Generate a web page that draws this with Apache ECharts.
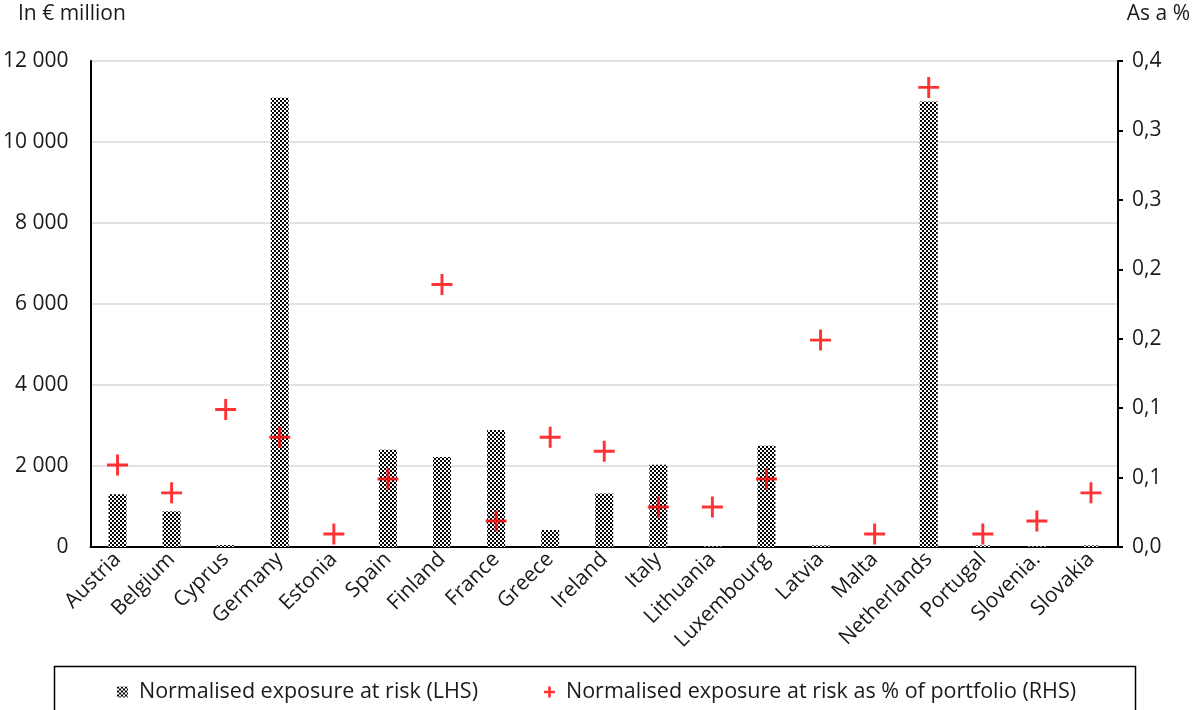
<!DOCTYPE html>
<html>
<head>
<meta charset="utf-8">
<script src="https://cdn.jsdelivr.net/npm/echarts@6/dist/echarts.min.js"></script>
<style>
html,body{margin:0;padding:0;background:#fff;}
#chart{width:1193px;height:710px;}
</style>
</head>
<body>
<div id="chart"></div>
<script>
const categories = ['Austria','Belgium','Cyprus','Germany','Estonia','Spain','Finland','France','Greece','Ireland','Italy','Lithuania','Luxembourg','Latvia','Malta','Netherlands','Portugal','Slovenia.','Slovakia'];
const exposureValues = [1300, 880, 50, 11090, 0, 2400, 2220, 2890, 420, 1320, 2030, 15, 2500, 40, 0, 11000, 40, 15, 40];
const exposurePctValues = [0.059, 0.039, 0.099, 0.079, 0.0094, 0.049, 0.189, 0.0187, 0.079, 0.069, 0.0288, 0.0288, 0.049, 0.149, 0.0094, 0.331, 0.0094, 0.0187, 0.039];
const rightTickLabels = ['0,0','0,1','0,1','0,2','0,2','0,3','0,3','0,4'];
const seriesNames = ['Normalised exposure at risk (LHS)', 'Normalised exposure at risk as % of portfolio (RHS)'];
const leftAxisTitle = 'In € million';
const rightAxisTitle = 'As a %';

// checker pattern
const pc = document.createElement('canvas');
pc.width = 4; pc.height = 4;
const pctx = pc.getContext('2d');
pctx.fillStyle = '#ffffff'; pctx.fillRect(0,0,4,4);
pctx.fillStyle = '#000000';
pctx.fillRect(0,0,2,2); pctx.fillRect(2,2,2,2);
const checker = { image: pc, repeat: 'repeat' };

const FONT = '"Open Sans", "Noto Sans", sans-serif';
const FS = 21;
const plusPath = 'path://M4.3,0H5.7V10H4.3Z M0,4.3H10V5.7H0Z';
const legendPlus = 'path://M3.8,0H6.2V10H3.8Z M0,3.8H10V6.2H0Z';

const chart = echarts.init(document.getElementById('chart'), null, {renderer: 'canvas'});
chart.setOption({
  animation: false,
  textStyle: { fontFamily: FONT },
  grid: { left: 90, right: 75, top: 61, bottom: 163, containLabel: false },
  graphic: [
    { type: 'text', left: 18, top: 4, style: { text: leftAxisTitle, font: FS + 'px ' + FONT, fill: '#1a1a1a' } },
    { type: 'text', right: 3, top: 4, style: { text: rightAxisTitle, font: FS + 'px ' + FONT, fill: '#1a1a1a' } },
    { type: 'rect', shape: { x: 54.5, y: 666.5, width: 1081, height: 60 }, style: { fill: 'none', stroke: '#000', lineWidth: 1.5 }, z: -1 }
  ],
  legend: {
    top: 676, left: 'center',
    itemGap: 66, itemWidth: 11, itemHeight: 11,
    textStyle: { fontFamily: FONT, fontSize: 21.5, color: '#1a1a1a', padding: [0, 0, 0, 6] },
    data: [
      { name: seriesNames[0], icon: 'rect' },
      { name: seriesNames[1], icon: legendPlus }
    ]
  },
  xAxis: {
    type: 'category',
    data: categories,
    axisLine: { show: true, lineStyle: { color: '#000', width: 2 } },
    axisTick: { show: false },
    axisLabel: { rotate: 45, interval: 0, margin: 9, fontFamily: FONT, fontSize: FS, color: '#1a1a1a' },
    splitLine: { show: false }
  },
  yAxis: [
    {
      type: 'value', min: 0, max: 12000, interval: 2000,
      axisLine: { show: true, lineStyle: { color: '#000', width: 2 } },
      axisTick: { show: false },
      axisLabel: { margin: 22, fontFamily: FONT, fontSize: FS, color: '#1a1a1a',
        formatter: v => String(v).replace(/\B(?=(\d{3})+(?!\d))/g, ' ') },
      splitLine: { show: true, lineStyle: { color: '#d9d9d9', width: 1.5 } }
    },
    {
      type: 'value', min: 0, max: 0.35, interval: 0.05, position: 'right',
      axisLine: { show: true, lineStyle: { color: '#000', width: 2 } },
      axisTick: { show: true, inside: false, length: 5, lineStyle: { color: '#000', width: 2 } },
      axisLabel: { margin: 14, fontFamily: FONT, fontSize: FS, color: '#1a1a1a',
        formatter: v => rightTickLabels[Math.round(v / 0.05)] },
      splitLine: { show: false }
    }
  ],
  series: [
    {
      name: seriesNames[0], type: 'bar', yAxisIndex: 0,
      data: exposureValues, barWidth: 18,
      itemStyle: { color: checker },
      z: 2
    },
    {
      name: seriesNames[1], type: 'scatter', yAxisIndex: 1,
      data: exposurePctValues,
      symbol: plusPath, symbolSize: 21,
      itemStyle: { color: '#ff0000' },
      z: 3
    }
  ]
});
</script>
</body>
</html>
